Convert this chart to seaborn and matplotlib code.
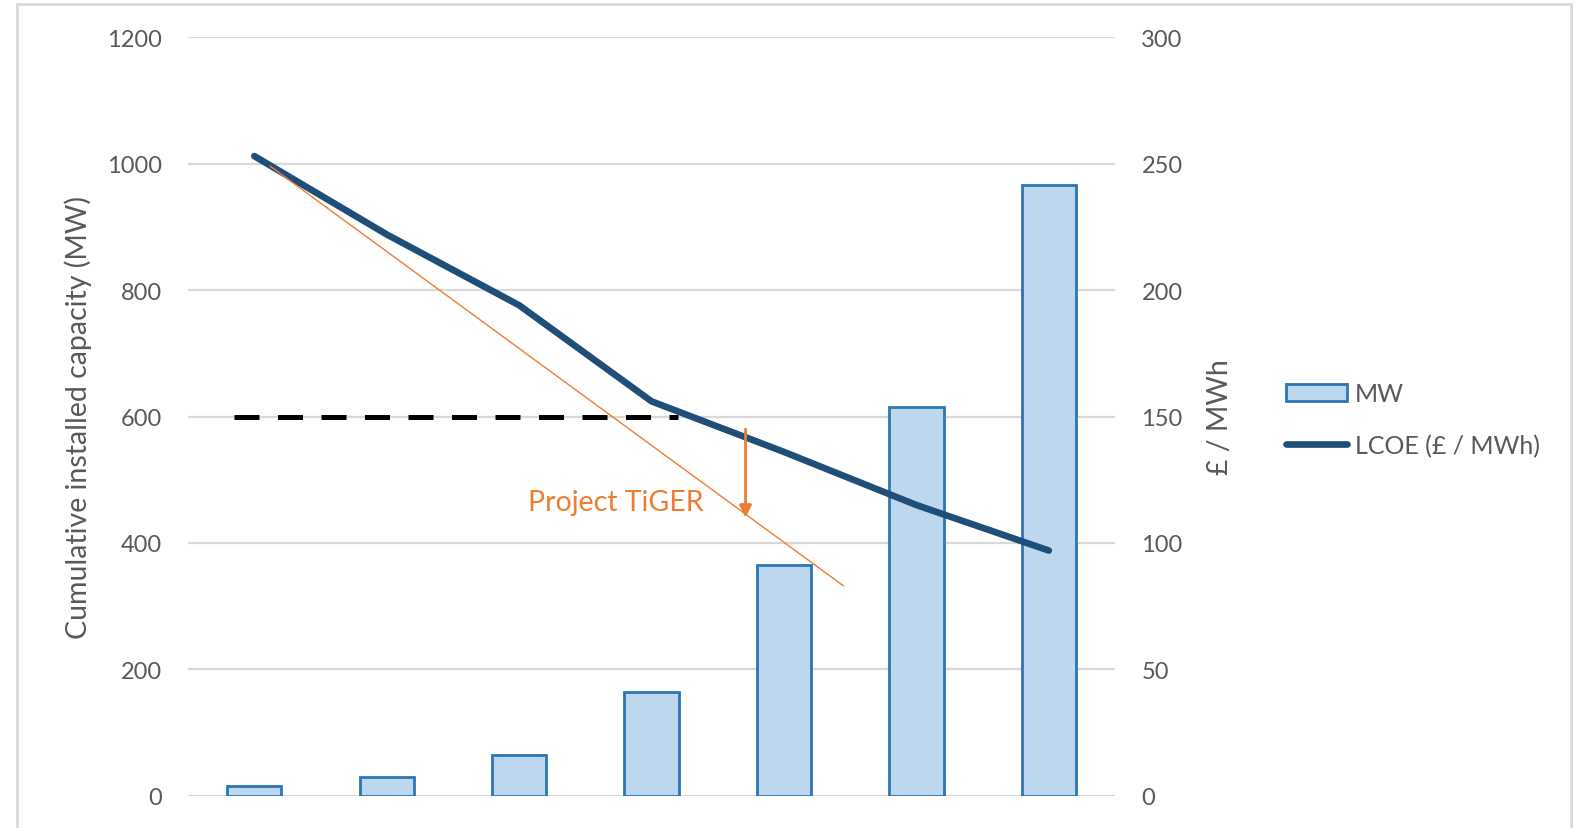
import numpy as np
import matplotlib
matplotlib.use("Agg")
import matplotlib.pyplot as plt
from matplotlib.patches import Rectangle, Patch
from matplotlib.lines import Line2D
import seaborn as sns

# Data
stages = ["1", "2", "3", "4", "5", "6", "7"]
capacity_mw = [15, 30, 65, 165, 365, 615, 967]
lcoe = [253, 222, 194, 156, 136, 115, 97]
left_ticks = [0, 200, 400, 600, 800, 1000, 1200]
right_ticks = [0, 50, 100, 150, 200, 250, 300]

# Annotation values
threshold_mw = 600
threshold_span = [-0.15, 3.2]
trend_x = [0.12, 4.45]
trend_lcoe = [249, 83]
arrow_x = 3.71
arrow_lcoe = [145, 110]
tiger_label = "Project TiGER"
tiger_x, tiger_mw = 2.73, 465

BAR_FACE = "#BDD7EE"
BAR_EDGE = "#2E75B6"
LINE_C = "#1F4E79"
ORANGE = "#ED7D31"
GRID_C = "#D9D9D9"
TEXT_C = "#595959"

sns.set_theme(style="white")
plt.rcParams["font.family"] = ["Lato", "DejaVu Sans"]
FS = 17
FS_LABEL = 20.5
FS_LEGEND = 18

fig = plt.figure(figsize=(15.78, 8.29), dpi=100)
ax = fig.add_axes([0.1192, 0.0388, 0.5874, 0.9151])

sns.barplot(x=stages, y=capacity_mw, color=BAR_FACE, saturation=1, width=0.41,
            edgecolor=BAR_EDGE, linewidth=2.0, ax=ax, zorder=2)

ax.set_ylim(0, 1200)
ax.set_yticks(left_ticks)
ax.set_xlim(-0.5, 6.5)
ax.set_xticks([])
ax.set_xlabel("")
ax.grid(axis="y", color=GRID_C, linewidth=1.6)
ax.set_axisbelow(True)
for s in ax.spines.values():
    s.set_visible(False)
ax.tick_params(axis="y", length=0, pad=19, labelsize=FS, labelcolor=TEXT_C)
ax.set_ylabel("Cumulative installed capacity (MW)", fontsize=FS_LABEL, color=TEXT_C)
ax.yaxis.set_label_coords(-0.104, 0.5)

# Reference level
ax.plot(threshold_span, [threshold_mw, threshold_mw], color="black", lw=3.6,
        dashes=(5, 3.7), zorder=3)

ax2 = ax.twinx()
sns.lineplot(x=np.arange(len(lcoe)), y=lcoe, color=LINE_C, linewidth=4.8,
             ax=ax2, solid_capstyle="round", zorder=4)
ax2.set_ylim(0, 300)
ax2.set_yticks(right_ticks)
ax2.set_xlim(-0.5, 6.5)
for s in ax2.spines.values():
    s.set_visible(False)
ax2.tick_params(axis="y", length=0, pad=19, labelsize=FS, labelcolor=TEXT_C)
ax2.set_ylabel("£ / MWh", fontsize=FS_LABEL, color=TEXT_C)
ax2.yaxis.set_label_coords(1.099, 0.5)

# Learning-rate trend and cost step
ax2.plot(trend_x, trend_lcoe, color=ORANGE, lw=1.0, zorder=5)
ax2.annotate("", xy=(arrow_x, arrow_lcoe[1]), xytext=(arrow_x, arrow_lcoe[0]),
             arrowprops=dict(arrowstyle="-|>", color=ORANGE, lw=2.0,
                             mutation_scale=18, shrinkA=0, shrinkB=0), zorder=5)
ax.text(tiger_x, tiger_mw, tiger_label, color=ORANGE, fontsize=FS_LABEL,
        ha="center", va="center", zorder=5)

handles = [
    Patch(facecolor=BAR_FACE, edgecolor=BAR_EDGE, linewidth=2.0),
    Line2D([0], [0], color=LINE_C, lw=4.8, solid_capstyle="round"),
]
fig.legend(handles, ["MW", "LCOE (£ / MWh)"], loc="center left",
           bbox_to_anchor=(0.815, 0.4925), frameon=False, fontsize=FS_LEGEND,
           labelcolor=TEXT_C, handlelength=2.45, handleheight=0.7,
           handletextpad=0.3, labelspacing=1.15, borderpad=0, borderaxespad=0)

# Outer frame
fig.patches.append(Rectangle((17 / 1578, -0.01), (1571 - 17) / 1578, 1.01 - 5 / 829,
                             transform=fig.transFigure, fill=False,
                             edgecolor=GRID_C, linewidth=2.0))

fig.savefig("out.png", dpi=100)
